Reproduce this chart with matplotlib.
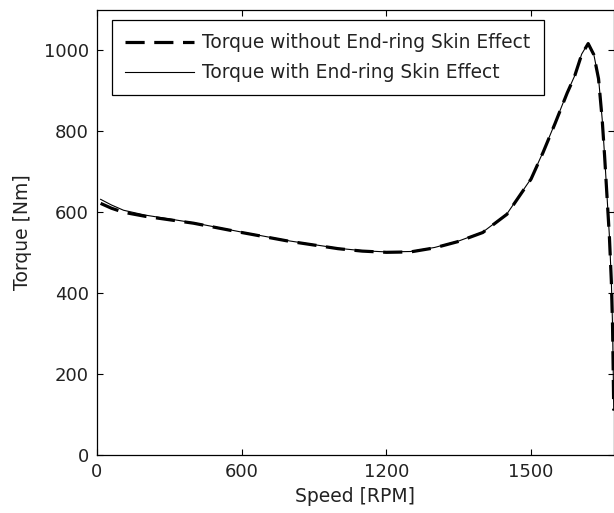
import matplotlib
matplotlib.use('Agg')
import matplotlib.pyplot as plt

# velocidade [RPM] e torque [Nm]
velocidade = [15, 60, 110, 200, 400, 600, 800, 1000, 1100, 1200, 1300, 1400,
              1500, 1600, 1700, 1800, 1850, 1900, 1950, 1980, 2010, 2037,
              2060, 2080, 2095, 2105, 2115, 2125, 2133, 2138, 2141, 2143]
torque_sem = [622, 610, 600, 590, 573, 550, 528, 510, 504, 501, 502, 512,
              528, 550, 595, 682, 748, 820, 895, 935, 990, 1017,
              990, 930, 830, 740, 640, 540, 430, 320, 200, 110]
torque_com = [632, 618, 605, 593, 574, 551, 529, 511, 505, 502, 503, 513,
              529, 551, 596, 683, 749, 821, 896, 936, 991, 1018,
              991, 931, 831, 741, 641, 541, 431, 321, 201, 111]

xticks = [0, 600, 1200, 1800]
xtick_labels = ['0', '600', '1200', '1500']
yticks = [0, 200, 400, 600, 800, 1000]

plt.rcParams.update({'font.family': 'DejaVu Sans', 'font.size': 13})

fig = plt.figure(figsize=(6.14, 5.13), dpi=100)
ax = fig.add_axes([97 / 614, 58 / 513, 516.5 / 614, 445 / 513])

ax.plot(velocidade, torque_sem, color='black', linewidth=2.3, linestyle=(0, (6, 3)),
        label='Torque without End-ring Skin Effect')
ax.plot(velocidade, torque_com, color='black', linewidth=0.8,
        label='Torque with End-ring Skin Effect')

ax.set_xlim(0, 2142)
ax.set_ylim(0, 1100)
ax.set_xticks(xticks)
ax.set_xticklabels(xtick_labels)
ax.set_yticks(yticks)
ax.tick_params(direction='in', length=4, width=0.8, top=True, right=True, pad=6,
               labelcolor='#222222')
for s in ax.spines.values():
    s.set_linewidth(0.9)

ax.set_xlabel('Speed [RPM]', fontsize=13.5, labelpad=4, color='#222222')
ax.set_ylabel('Torque [Nm]', fontsize=13.5, labelpad=8, color='#222222')

leg = ax.legend(loc='upper left', bbox_to_anchor=(0.029, 0.9775), borderaxespad=0,
                fontsize=13.4, fancybox=False, edgecolor='black', framealpha=1,
                handlelength=3.7, handletextpad=0.45, labelspacing=0.6, borderpad=0.7)
leg.get_frame().set_linewidth(0.9)
for t in leg.get_texts():
    t.set_color('#222222')

plt.savefig('out.png', dpi=100)
